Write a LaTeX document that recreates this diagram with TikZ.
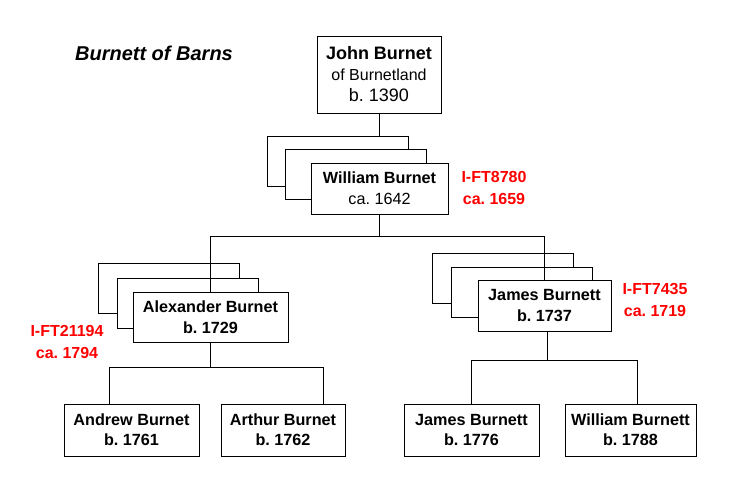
\documentclass[tikz,border=0pt]{standalone}
\usepackage{fontspec}
\setmainfont{Liberation Sans}
\usepackage{tikz}
\usetikzlibrary{calc}
\frenchspacing

\begin{document}
\begin{tikzpicture}[x=1pt,y=-1pt,
		person/.style={draw, fill=white, line width=1pt, align=center, inner sep=0pt, minimum height=51, font=\fontsize{16.2}{21}\selectfont},
		backbox/.style={draw, fill=white, line width=1pt, minimum width=141, minimum height=50, inner sep=0pt},
		ftlabel/.style={text=red, align=center, font=\fontsize{16}{22}\selectfont\bfseries},
		link/.style={line width=1pt}]
	\useasboundingbox (0,0) rectangle (750,490);
	
	\node[font=\fontsize{20}{24}\selectfont\bfseries\itshape] (title) at (154,53) {Burnett of Barns};
	
	\foreach \n/\cx/\cy in {wb1/337.5/161, wb2/356/174.5, ab1/168.5/288.5, ab2/187.5/303, jb1/502.5/278.5, jb2/522/292}{
		\node[backbox] (\n) at (\cx,\cy) {};
	}
	
	\node[person, minimum width=124, minimum height=77] (john) at (379,74.5) {{\fontsize{18}{24}\selectfont\bfseries John Burnet}\\{\fontsize{16}{23}\selectfont of Burnetland}\\{\fontsize{18}{23}\selectfont b. 1390}};
	\node[person, minimum width=137] (william) at (379.5,188.5) {\textbf{William Burnet}\\ca. 1642};
	\node[person, minimum width=155, minimum height=50, font=\fontsize{16.2}{21}\selectfont\bfseries] (alex) at (210.5,317) {Alexander Burnet\\b. 1729};
	\node[person, minimum width=133, font=\fontsize{16.2}{21}\selectfont\bfseries] (james) at (544.5,305.5) {James Burnett\\b. 1737};
	
	\begin{scope}[every node/.style={person, minimum height=52, font=\fontsize{16.2}{20}\selectfont\bfseries}]
		\node[minimum width=135] (andrew) at (131.5,430) {Andrew Burnet\\b. 1761};
		\node[minimum width=124] (arthur) at (283,430) {Arthur Burnet\\b. 1762};
		\node[minimum width=135] (jamesjr) at (471.5,430) {James Burnett\\b. 1776};
		\node[minimum width=131] (williamjr) at (630.5,430) {William Burnett\\b. 1788};
	\end{scope}
	
	\node[ftlabel] (ftwilliam) at (494,188) {I-FT8780\\ca. 1659};
	\node[ftlabel] (ftalex) at (67,341.5) {I-FT21194\\ca. 1794};
	\node[ftlabel] (ftjames) at (655,299.5) {I-FT7435\\ca. 1719};
	
	\draw[link] (john.south) -- (john.south |- wb1.north);
	
	\draw[link] (william.south) -- ++(0,22) coordinate (wfork);
	\draw[link] (alex.north) |- (wfork) -| (james.north);
	
	\draw[link] (alex.south) -- ++(0,25) coordinate (afork);
	\draw[link] ($(andrew.north)+(-22.5,0)$) |- (afork) -| ($(arthur.north)+(40,0)$);
	
	\draw[link] ($(james.south)+(2.5,0)$) -- ++(0,29) coordinate (jfork);
	\draw[link] (jamesjr.north) |- (jfork) -| ($(williamjr.north)+(6.5,0)$);
\end{tikzpicture}
\end{document}
